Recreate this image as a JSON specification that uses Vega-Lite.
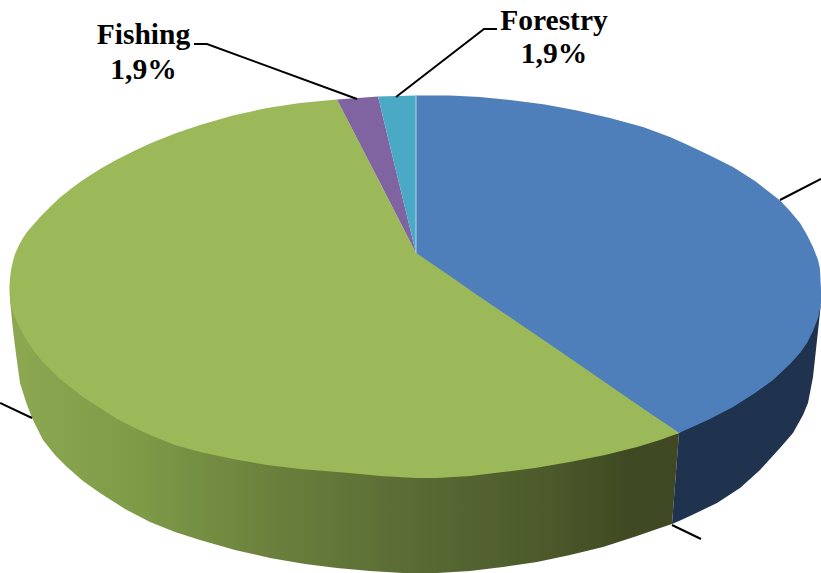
{"$schema":"https://vega.github.io/schema/vega-lite/v6.json","width":821,"height":573,"autosize":"none","padding":0,"background":"white","config":{"view":{"stroke":null}},
"datasets":{
"sideGreen":[{"x":10,"y":296,"y2":300},{"x":13,"y":309,"y2":330},{"x":16,"y":316,"y2":354},{"x":20,"y":324,"y2":383},{"x":26,"y":335,"y2":402},{"x":32,"y":344,"y2":418},{"x":43,"y":358,"y2":440},{"x":55,"y":370,"y2":455},{"x":67,"y":380,"y2":467},{"x":83,"y":393,"y2":481},{"x":100,"y":404,"y2":493},{"x":125,"y":418,"y2":509},{"x":150,"y":431,"y2":522},{"x":175,"y":441,"y2":532},{"x":200,"y":448,"y2":540},{"x":235,"y":456,"y2":550},{"x":270,"y":461,"y2":558},{"x":305,"y":466,"y2":564},{"x":337,"y":468,"y2":568},{"x":370,"y":471,"y2":571},{"x":403,"y":473,"y2":573},{"x":437,"y":474,"y2":573},{"x":470,"y":472,"y2":571},{"x":503,"y":468,"y2":567},{"x":537,"y":464,"y2":562},{"x":570,"y":458,"y2":555},{"x":603,"y":451,"y2":547},{"x":637,"y":443,"y2":536},{"x":660,"y":436,"y2":528},{"x":672,"y":435,"y2":524},{"x":679,"y":433,"y2":433}],
"faces":[
{"part":"Side","x":672,"y":524,"y2":524},{"part":"Side","x":679,"y":433,"y2":521},{"part":"Side","x":690,"y":424,"y2":516},{"part":"Side","x":717,"y":411,"y2":503},{"part":"Side","x":740,"y":396,"y2":488},{"part":"Side","x":760,"y":383,"y2":470},{"part":"Side","x":780,"y":366,"y2":448},{"part":"Side","x":793,"y":356,"y2":433},{"part":"Side","x":803,"y":344,"y2":415},{"part":"Side","x":808,"y":338,"y2":403},{"part":"Side","x":813,"y":327,"y2":377},{"part":"Side","x":818,"y":314,"y2":331},{"part":"Side","x":821,"y":303,"y2":303},
{"part":"Green","x":9.5,"y":285,"y2":292},{"part":"Green","x":10,"y":278,"y2":299},{"part":"Green","x":11,"y":270,"y2":305},{"part":"Green","x":13,"y":261,"y2":313},{"part":"Green","x":15,"y":254,"y2":318},{"part":"Green","x":19,"y":245,"y2":326},{"part":"Green","x":23,"y":238,"y2":334},{"part":"Green","x":27,"y":232,"y2":341},{"part":"Green","x":34,"y":224,"y2":351},{"part":"Green","x":41,"y":216,"y2":360},{"part":"Green","x":50,"y":207,"y2":369},{"part":"Green","x":60,"y":197.5,"y2":379},{"part":"Green","x":72,"y":188,"y2":388.5},{"part":"Green","x":83,"y":180,"y2":397},{"part":"Green","x":100,"y":169,"y2":408},{"part":"Green","x":117,"y":159.5,"y2":419},{"part":"Green","x":135,"y":150.5,"y2":428},{"part":"Green","x":150,"y":143.5,"y2":435},{"part":"Green","x":175,"y":133.5,"y2":445},{"part":"Green","x":200,"y":125,"y2":452},{"part":"Green","x":233,"y":115.5,"y2":459},{"part":"Green","x":267,"y":108,"y2":465},{"part":"Green","x":300,"y":103,"y2":469},{"part":"Green","x":337,"y":99.5,"y2":472},{"part":"Green","x":360,"y":144,"y2":474},{"part":"Green","x":380,"y":183,"y2":476},{"part":"Green","x":416,"y":253,"y2":478},{"part":"Green","x":437,"y":266,"y2":478},{"part":"Green","x":470,"y":289,"y2":476},{"part":"Green","x":503,"y":312,"y2":472},{"part":"Green","x":535,"y":333,"y2":468},{"part":"Green","x":570,"y":357,"y2":462},{"part":"Green","x":605,"y":381,"y2":455},{"part":"Green","x":637,"y":403,"y2":447},{"part":"Green","x":660,"y":419,"y2":440},{"part":"Green","x":679,"y":433,"y2":433},
{"part":"Blue","x":416,"y":95.5,"y2":253},{"part":"Blue","x":450,"y":95.5,"y2":276},{"part":"Blue","x":480,"y":97,"y2":297},{"part":"Blue","x":510,"y":100,"y2":317.3},{"part":"Blue","x":545,"y":104.5,"y2":341},{"part":"Blue","x":577,"y":110.5,"y2":363},{"part":"Blue","x":610,"y":118,"y2":385.8},{"part":"Blue","x":643,"y":127,"y2":408.4},{"part":"Blue","x":670,"y":137,"y2":426.8},{"part":"Blue","x":679,"y":141,"y2":433},{"part":"Blue","x":690,"y":146,"y2":428},{"part":"Blue","x":710,"y":155.5,"y2":419},{"part":"Blue","x":733,"y":167,"y2":407},{"part":"Blue","x":755,"y":181,"y2":393},{"part":"Blue","x":773,"y":195,"y2":380},{"part":"Blue","x":780,"y":200.5,"y2":373.5},{"part":"Blue","x":790,"y":211,"y2":364},{"part":"Blue","x":800,"y":223,"y2":353},{"part":"Blue","x":807,"y":235,"y2":343},{"part":"Blue","x":813,"y":247,"y2":331},{"part":"Blue","x":818,"y":260,"y2":318},{"part":"Blue","x":820,"y":269,"y2":309},{"part":"Blue","x":821,"y":290,"y2":303},
{"part":"Fishing","x":337,"y":99.5,"y2":99.5},{"part":"Fishing","x":378,"y":96.5,"y2":179},{"part":"Fishing","x":416,"y":253,"y2":253},
{"part":"Forestry","x":378,"y":96.5,"y2":96.5},{"part":"Forestry","x":416,"y":95.5,"y2":253}],
"edge":[{"x":416,"y":96,"y2":253}],
"leaders":[
{"lead":"Fishing","i":1,"x":194,"y":44},{"lead":"Fishing","i":2,"x":207,"y":44},{"lead":"Fishing","i":3,"x":357,"y":99},
{"lead":"Forestry","i":1,"x":497,"y":29},{"lead":"Forestry","i":2,"x":484,"y":29},{"lead":"Forestry","i":3,"x":396,"y":97},
{"lead":"Right","i":1,"x":821,"y":179},{"lead":"Right","i":2,"x":780,"y":200},
{"lead":"Left","i":1,"x":0,"y":403},{"lead":"Left","i":2,"x":32,"y":418},
{"lead":"Bottom","i":1,"x":672,"y":525},{"lead":"Bottom","i":2,"x":701,"y":539}],
"labels":[{"t":"Fishing","x":143.5,"y":44},{"t":"1,9%","x":143.5,"y":79},{"t":"Forestry","x":554,"y":30},{"t":"1,9%","x":554,"y":63}]
},
"layer":[
{"data":{"name":"sideGreen"},"mark":{"type":"area","color":{"gradient":"linear","x1":0,"y1":0,"x2":1,"y2":0,"stops":[{"offset":0,"color":"#8ca851"},{"offset":0.2,"color":"#7d9a47"},{"offset":0.4,"color":"#6a7f3c"},{"offset":0.6,"color":"#5a6b35"},{"offset":0.8,"color":"#4c5a2b"},{"offset":0.92,"color":"#3f4a22"},{"offset":1,"color":"#3f4822"}]}},
"encoding":{"x":{"field":"x","type":"quantitative","scale":{"domain":[0,821]},"axis":null},"y":{"field":"y","type":"quantitative","scale":{"domain":[573,0]},"axis":null},"y2":{"field":"y2"}}},
{"data":{"name":"faces"},"mark":{"type":"area"},
"encoding":{"x":{"field":"x","type":"quantitative","scale":{"domain":[0,821]},"axis":null},"y":{"field":"y","type":"quantitative","scale":{"domain":[573,0]},"axis":null},"y2":{"field":"y2"},
"color":{"field":"part","type":"nominal","legend":null,"scale":{"domain":["Side","Green","Blue","Fishing","Forestry"],"range":["#1f334f","#9bb959","#4e7fba","#8064a2","#4aa9c4"]}}}},
{"data":{"name":"edge"},"mark":{"type":"rule","color":"#b4d3e4","strokeWidth":1},
"encoding":{"x":{"field":"x","type":"quantitative","scale":{"domain":[0,821]},"axis":null},"y":{"field":"y","type":"quantitative","scale":{"domain":[573,0]},"axis":null},"y2":{"field":"y2"}}},
{"data":{"name":"leaders"},"mark":{"type":"line","color":"black","strokeWidth":2},
"encoding":{"x":{"field":"x","type":"quantitative","scale":{"domain":[0,821]},"axis":null},"y":{"field":"y","type":"quantitative","scale":{"domain":[573,0]},"axis":null},"detail":{"field":"lead"},"order":{"field":"i","type":"quantitative"}}},
{"data":{"name":"labels"},"mark":{"type":"text","font":"Liberation Serif","fontWeight":"bold","fontSize":29.5,"color":"black","align":"center","baseline":"alphabetic"},
"encoding":{"x":{"field":"x","type":"quantitative","scale":{"domain":[0,821]},"axis":null},"y":{"field":"y","type":"quantitative","scale":{"domain":[573,0]},"axis":null},"text":{"field":"t"}}}
]}
